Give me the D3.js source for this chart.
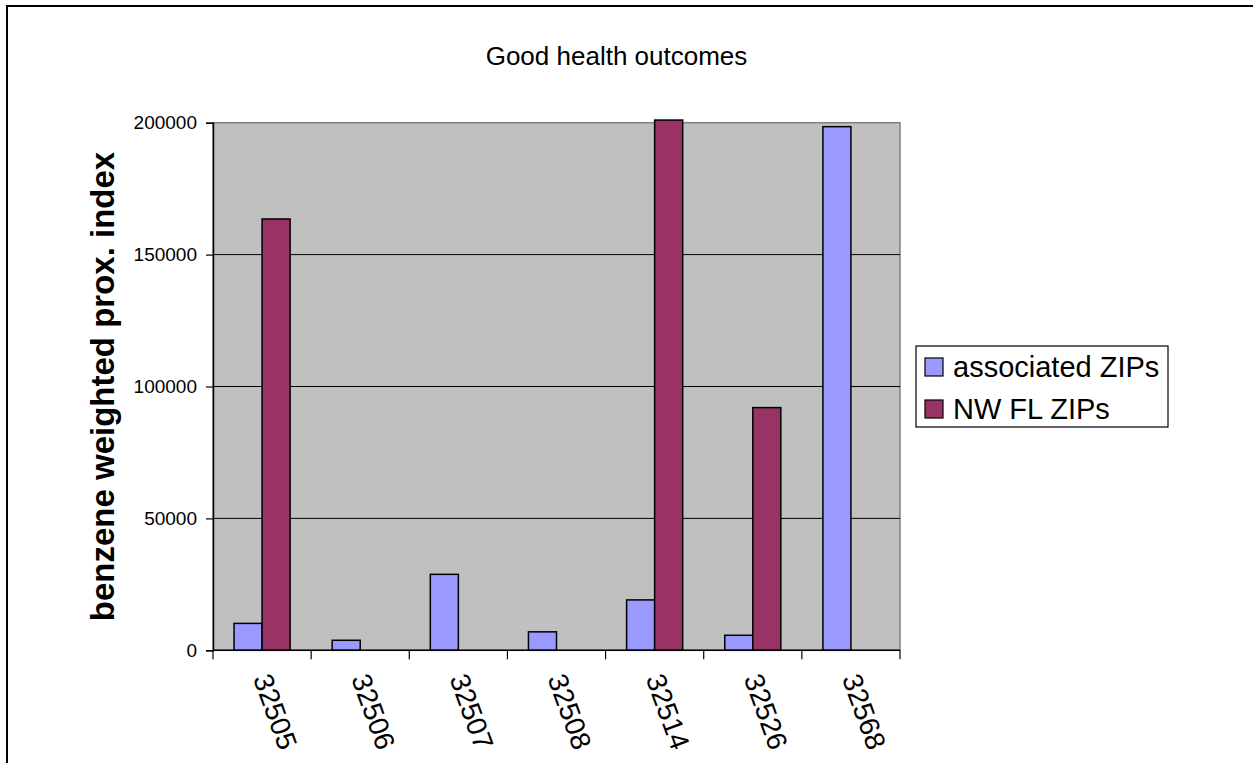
<!DOCTYPE html>
<html>
<head>
<meta charset="utf-8">
<script src="https://cdn.jsdelivr.net/npm/d3@7"></script>
<style>
  html, body { margin: 0; padding: 0; background: #fff; }
  svg { display: block; }
  text { font-family: "Liberation Sans", Arial, sans-serif; fill: #000; }
</style>
</head>
<body>
<svg id="chart" width="1253" height="763"></svg>
<script>
// ZIP codes along the x axis
const categories = ["32505", "32506", "32507", "32508", "32514", "32526", "32568"];
// Benzene weighted proximity index per ZIP
const associatedZips = [10200, 3800, 28800, 7000, 19100, 5700, 198500];
const nwFlZips = [163500, null, null, null, 201000, 92000, null];
const seriesNames = ["associated ZIPs", "NW FL ZIPs"];
const yTicks = [0, 50000, 100000, 150000, 200000];

const colors = ["#9999FF", "#993366"];
const svg = d3.select("#chart");

// outer chart frame
svg.append("rect")
  .attr("x", 7).attr("y", 6)
  .attr("width", 1260).attr("height", 780)
  .attr("fill", "#fff").attr("stroke", "#000").attr("stroke-width", 2);

const plot = { left: 213, right: 900, top: 122.7, bottom: 650.3 };

const x = d3.scaleBand().domain(categories).range([plot.left, plot.right]).paddingInner(0).paddingOuter(0);
const y = d3.scaleLinear().domain([0, 200000]).range([plot.bottom, plot.top]);

// plot area background
svg.append("rect")
  .attr("x", plot.left).attr("y", plot.top)
  .attr("width", plot.right - plot.left).attr("height", plot.bottom - plot.top)
  .attr("fill", "#C0C0C0").attr("stroke", "#808080").attr("stroke-width", 1.5);

// horizontal gridlines
svg.append("g").selectAll("line")
  .data(yTicks.filter(t => t > 0 && t < 200000))
  .join("line")
  .attr("x1", plot.left).attr("x2", plot.right)
  .attr("y1", d => y(d)).attr("y2", d => y(d))
  .attr("stroke", "#000").attr("stroke-width", 1);

// y axis
const yAxis = svg.append("g")
  .attr("transform", `translate(${plot.left},0)`)
  .call(d3.axisLeft(y).tickValues(yTicks).tickSize(7).tickPadding(9).tickFormat(d3.format("d")));
yAxis.select(".domain").attr("stroke", "#000").attr("stroke-width", 1.5);
yAxis.selectAll(".tick line").attr("stroke", "#000").attr("stroke-width", 1.2);
yAxis.selectAll(".tick text")
  .style("font-family", '"Liberation Sans", Arial, sans-serif')
  .style("font-size", "19px").attr("fill", "#000");

// bars
const series = [associatedZips, nwFlZips];
const barW = x.bandwidth() / 3.5;
const groupOffset = (x.bandwidth() - 2 * barW) / 2;
series.forEach((vals, si) => {
  svg.append("g").selectAll("rect")
    .data(categories.map((c, i) => ({ c, v: vals[i] })).filter(d => d.v != null))
    .join("rect")
    .attr("x", d => x(d.c) + groupOffset + si * barW)
    .attr("y", d => y(d.v))
    .attr("width", barW)
    .attr("height", d => y(0) - y(d.v))
    .attr("fill", colors[si])
    .attr("stroke", "#000").attr("stroke-width", 1.5);
});

// x axis with ticks at category boundaries
const xg = svg.append("g");
xg.append("line")
  .attr("x1", plot.left).attr("x2", plot.right)
  .attr("y1", plot.bottom).attr("y2", plot.bottom)
  .attr("stroke", "#000").attr("stroke-width", 1.5);
const bounds = categories.map(c => x(c)).concat([plot.right]);
xg.selectAll("line.tk").data(bounds).join("line")
  .attr("class", "tk")
  .attr("x1", d => d).attr("x2", d => d)
  .attr("y1", plot.bottom).attr("y2", plot.bottom + 9)
  .attr("stroke", "#000").attr("stroke-width", 1.2);
xg.selectAll("text").data(categories).join("text")
  .attr("transform", d => `translate(${x(d) + x.bandwidth() / 2},675) rotate(70)`)
  .attr("dy", "0.35em")
  .attr("text-anchor", "start")
  .style("font-size", "28px")
  .text(d => d);

// title
svg.append("text")
  .attr("x", 616.5).attr("y", 65)
  .attr("text-anchor", "middle")
  .style("font-size", "26px")
  .text("Good health outcomes");

// y axis title
svg.append("text")
  .attr("transform", "translate(114,386.5) rotate(-90)")
  .attr("text-anchor", "middle")
  .style("font-size", "33px").style("font-weight", "bold")
  .text("benzene weighted prox. index");

// legend
const lg = svg.append("g");
lg.append("rect")
  .attr("x", 916).attr("y", 346).attr("width", 252).attr("height", 81)
  .attr("fill", "#fff").attr("stroke", "#000").attr("stroke-width", 1.2);
seriesNames.forEach((name, i) => {
  const cy = 367 + i * 42;
  lg.append("rect")
    .attr("x", 925).attr("y", cy - 9).attr("width", 18).attr("height", 18)
    .attr("fill", colors[i]).attr("stroke", "#000").attr("stroke-width", 1.2);
  lg.append("text")
    .attr("x", 953).attr("y", cy).attr("dy", "0.36em")
    .style("font-size", "29px")
    .text(name);
});
</script>
</body>
</html>
